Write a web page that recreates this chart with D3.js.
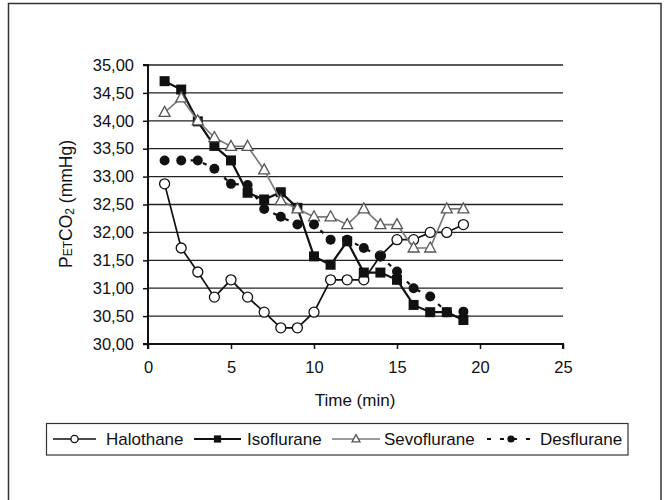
<!DOCTYPE html>
<html><head><meta charset="utf-8">
<script src="https://cdn.jsdelivr.net/npm/d3@7"></script>
<style>body{margin:0;background:#fff}svg{display:block}text{font-family:"Liberation Sans",Arial,sans-serif;fill:#111}</style>
</head><body>
<svg id="c" width="667" height="500"></svg>
<script>
const time = [1,2,3,4,5,6,7,8,9,10,11,12,13,14,15,16,17,18,19];
const halothane   = [32.87,31.72,31.29,30.84,31.15,30.84,30.57,30.29,30.29,30.57,31.15,31.15,31.15,31.58,31.87,31.87,32.00,32.00,32.14];
const isoflurane  = [34.71,34.56,33.99,33.55,33.29,32.71,32.59,32.72,32.44,31.57,31.42,31.84,31.28,31.28,31.15,30.70,30.57,30.57,30.43];
const sevoflurane = [34.15,34.41,34.00,33.70,33.54,33.54,33.12,32.57,32.42,32.28,32.28,32.14,32.42,32.14,32.14,31.72,31.72,32.42,32.42];
const desflurane  = [33.29,33.29,33.29,33.14,32.87,32.85,32.42,32.28,32.14,32.14,31.87,31.87,31.72,31.57,31.30,31.00,30.85,30.57,30.58];
const seriesNames = ["Halothane","Isoflurane","Sevoflurane","Desflurane"];
const xTicks = [0,5,10,15,20,25];
const yTicks = [30,30.5,31,31.5,32,32.5,33,33.5,34,34.5,35];

const svg = d3.select("#c");
const L = 148, R = 563, T = 65, B = 344;
const x = d3.scaleLinear().domain([0,25]).range([L,R]);
const y = d3.scaleLinear().domain([30,35]).range([B,T]);
const loc = d3.formatLocale({decimal:",",thousands:".",grouping:[3],currency:["",""]});
const fmt = loc.format(".2f");

// outer frame
svg.append("rect").attr("x",8.5).attr("y",3.5).attr("width",652.5).attr("height",520)
  .attr("fill","none").attr("stroke","#333").attr("stroke-width",1.5);

// gridlines
svg.append("g").selectAll("line").data(yTicks.filter(d=>d>30)).join("line")
  .attr("x1",L).attr("x2",R).attr("y1",d=>y(d)).attr("y2",d=>y(d))
  .attr("stroke","#222").attr("stroke-width",1.3);

// axes
const gy = svg.append("g").attr("transform",`translate(${L},0)`)
  .call(d3.axisLeft(y).tickValues(yTicks).tickFormat(fmt).tickSize(5).tickPadding(9));
const gx = svg.append("g").attr("transform",`translate(0,${B})`)
  .call(d3.axisBottom(x).tickValues(xTicks).tickSize(5).tickPadding(12));
[gy,gx].forEach(g=>{
  g.select(".domain").attr("stroke","#111").attr("stroke-width",2);
  g.selectAll(".tick line").attr("stroke","#111").attr("stroke-width",1.5);
  g.selectAll(".tick text").attr("font-size",16.5).attr("fill","#111")
    .attr("font-family","'Liberation Sans',Arial,sans-serif");
});
gx.select(".domain").attr("d",`M${L},5V0H${R}V5`);
gy.select(".domain").attr("d",`M-5,${T}H0V${B}H-5`);

// axis titles
svg.append("text").attr("x",355).attr("y",406).attr("text-anchor","middle")
  .attr("font-size",17).text("Time (min)");
const yt = svg.append("text").attr("transform","translate(72,204) rotate(-90)")
  .attr("text-anchor","middle").attr("font-size",17.5);
yt.append("tspan").text("P");
yt.append("tspan").attr("font-size",12).text("ET");
yt.append("tspan").text("CO");
yt.append("tspan").attr("font-size",12).attr("dy",2).text("2");
yt.append("tspan").attr("dy",-2).text(" (mmHg)");

const styles = {
  Halothane:  {data:halothane,  stroke:"#111", sw:1.7, dash:null, marker:"circle"},
  Isoflurane: {data:isoflurane, stroke:"#111", sw:2.2, dash:null, marker:"square"},
  Sevoflurane:{data:sevoflurane,stroke:"#7a7a7a", sw:1.7, dash:null, marker:"triangle"},
  Desflurane: {data:desflurane, stroke:"#111", sw:2.2, dash:"4,9", marker:"dot"}
};

function drawMarker(g, type, cx, cy, s) {
  if (type==="circle") g.append("circle").attr("cx",cx).attr("cy",cy).attr("r",5*s)
    .attr("fill","#fff").attr("stroke","#111").attr("stroke-width",1.3);
  else if (type==="square") g.append("rect").attr("x",cx-5*s).attr("y",cy-5*s)
    .attr("width",10*s).attr("height",10*s).attr("fill","#111");
  else if (type==="triangle") g.append("path")
    .attr("d",`M${cx},${cy-6*s}L${cx+5.5*s},${cy+4*s}L${cx-5.5*s},${cy+4*s}Z`)
    .attr("fill","#fff").attr("stroke","#555").attr("stroke-width",1.3);
  else g.append("circle").attr("cx",cx).attr("cy",cy).attr("r",5*s).attr("fill","#111");
}

const line = d3.line().x((d,i)=>x(time[i])).y(d=>y(d));
seriesNames.forEach(name=>{
  const st = styles[name];
  const g = svg.append("g");
  g.append("path").attr("d",line(st.data)).attr("fill","none")
    .attr("stroke",st.stroke).attr("stroke-width",st.sw)
    .attr("stroke-dasharray",st.dash);
  st.data.forEach((v,i)=>drawMarker(g, st.marker, x(time[i]), y(v), 1));
});

// legend
svg.append("rect").attr("x",46.5).attr("y",423.5).attr("width",581.5).attr("height",31.5)
  .attr("fill","#fff").attr("stroke","#333").attr("stroke-width",1.2);
const legendPos = [
  {x1:53,x2:96,tx:106},
  {x1:194,x2:241,tx:247},
  {x1:332,x2:380,tx:384},
  {x1:487,x2:535,tx:540}
];
const ly = 439;
seriesNames.forEach((name,i)=>{
  const st = styles[name], p = legendPos[i];
  const g = svg.append("g");
  g.append("line").attr("x1",p.x1).attr("x2",p.x2).attr("y1",ly).attr("y2",ly)
    .attr("stroke",st.stroke).attr("stroke-width",st.sw).attr("stroke-dasharray",st.dash);
  drawMarker(g, st.marker, (p.x1+p.x2)/2, ly, 0.72);
  g.append("text").attr("x",p.tx).attr("y",ly+6).attr("font-size",17).text(name);
});
</script>
</body></html>
